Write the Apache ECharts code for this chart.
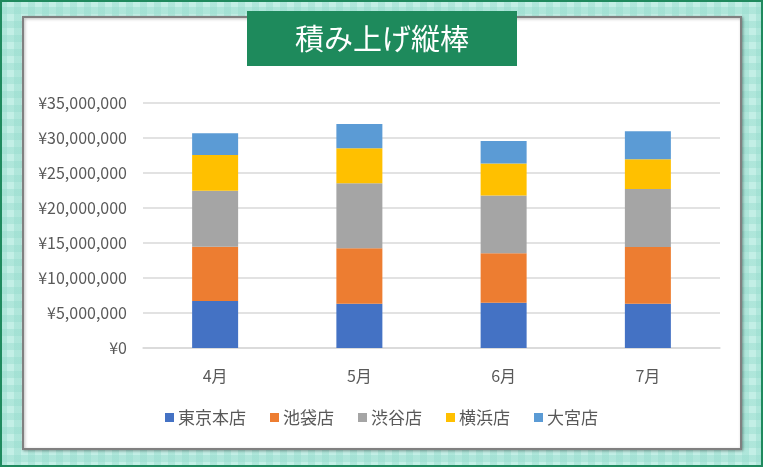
<!DOCTYPE html>
<html>
<head>
<meta charset="utf-8">
<script src="https://cdn.jsdelivr.net/npm/echarts@6/dist/echarts.min.js"></script>
<style>
  html, body { margin: 0; padding: 0; }
  body {
    width: 763px; height: 467px; box-sizing: border-box;
    border: 2px solid #1f8a5e;
    background-color: #c3efe6;
    background-image:
      linear-gradient(90deg, rgba(150,220,205,0.45) 50%, transparent 50%),
      linear-gradient(0deg, rgba(150,220,205,0.45) 50%, transparent 50%);
    background-size: 14px 14px;
  }
  #main { width: 759px; height: 463px; }
</style>
</head>
<body>
<div id="main"></div>
<script>
  // 月別・店舗別の売上
  var months = ['4月', '5月', '6月', '7月']
  var stores = ['東京本店', '池袋店', '渋谷店', '横浜店', '大宮店']
  var tokyo = [6700000, 6330000, 6480000, 6330000]
  var ikebukuro = [7770000, 7910000, 7050000, 8100000]
  var shibuya = [8000000, 9280000, 8240000, 8290000]
  var yokohama = [5100000, 5000000, 4570000, 4240000]
  var omiya = [3100000, 3480000, 3240000, 4000000]
  var colors = ['#4472C4', '#ED7D31', '#A5A5A5', '#FFC000', '#5B9BD5']

  var myChart = echarts.init(document.getElementById('main'))

  var jp = '"Noto Sans CJK JP", "Noto Sans", sans-serif'
  var values = [tokyo, ikebukuro, shibuya, yokohama, omiya]

  var option = {
    animation: false,
    color: colors,
    graphic: [
      { // 白いパネル
        type: 'rect', left: 20, top: 14, z: -10,
        shape: { width: 718, height: 432 },
        style: { fill: '#fff', stroke: '#808080', lineWidth: 2,
                 shadowBlur: 3, shadowOffsetX: 1, shadowOffsetY: 1, shadowColor: 'rgba(0,0,0,0.3)' }
      },
      { // タイトルの箱
        type: 'group', left: 245, top: 9, z: 10,
        children: [
          { type: 'rect', shape: { width: 270, height: 55 }, style: { fill: '#1e8a5c' } },
          { type: 'text', x: 135, y: 28,
            style: { text: '積み上げ縦棒', fill: '#fff', font: '29px ' + jp, align: 'center', verticalAlign: 'middle' } }
        ]
      }
    ],
    legend: {
      data: stores,
      bottom: 34,
      left: 'center',
      itemWidth: 9,
      itemHeight: 9,
      itemGap: 24,
      icon: 'rect',
      textStyle: { color: '#595959', fontSize: 17, fontFamily: jp, padding: [0, 0, 0, -1] }
    },
    grid: { left: 141, right: 41, top: 101, bottom: 117 },
    xAxis: {
      type: 'category',
      data: months,
      axisLine: { lineStyle: { color: '#d9d9d9', width: 1.5 } },
      axisTick: { show: false },
      axisLabel: { color: '#595959', fontSize: 16, fontFamily: jp, margin: 20 }
    },
    yAxis: {
      type: 'value',
      min: 0,
      max: 35000000,
      interval: 5000000,
      axisLine: { show: false },
      axisTick: { show: false },
      splitLine: { lineStyle: { color: '#d9d9d9', width: 1.5 } },
      axisLabel: {
        color: '#595959', fontSize: 16, fontFamily: jp, margin: 16,
        formatter: function (v) { return '¥' + v.toLocaleString('en-US') }
      }
    },
    series: stores.map(function (name, i) {
      return { name: name, type: 'bar', stack: 'total', barWidth: 46, data: values[i] }
    })
  }

  myChart.setOption(option)
</script>
</body>
</html>
